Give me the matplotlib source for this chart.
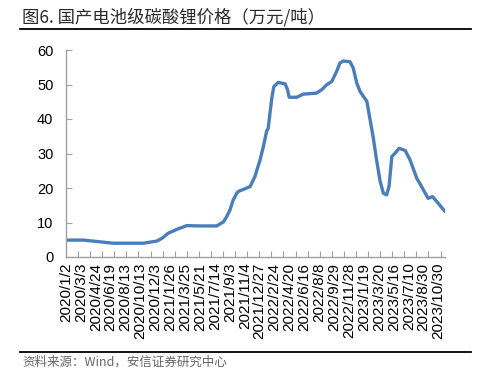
import matplotlib
matplotlib.use("Agg")
import matplotlib.pyplot as plt
from matplotlib.ticker import FixedLocator

plt.rcParams['font.family'] = ['Liberation Sans', 'Noto Sans CJK SC', 'DejaVu Sans']

# ---- data (trading-day index, price in 万元/吨) ----
day_idx = [0, 43, 68, 117, 192, 225, 238, 254, 275, 300, 333, 374, 391, 399, 407,
           415, 424, 428, 457, 469, 482, 490, 498, 502, 511, 516, 527, 544, 550, 554,
           573, 589, 622, 635, 647, 660, 672, 680, 688, 705, 713, 722, 730, 747, 755,
           763, 771, 780, 788, 796, 802, 809, 817, 827, 842, 854, 871, 883, 899, 910,
           924, 941]
price = [4.9, 4.9, 4.6, 4.0, 4.0, 4.6, 5.4, 6.9, 8.0, 9.1, 9.0, 9.0, 10.2, 11.7, 13.6,
         16.5, 18.5, 19.0, 20.4, 23.3, 28.2, 32.0, 36.4, 37.3, 46.1, 49.4, 50.6, 50.2, 48.5, 46.3,
         46.3, 47.2, 47.5, 48.5, 49.9, 50.9, 53.8, 56.2, 56.8, 56.6, 54.8, 50.4, 48.0, 45.1, 39.8,
         34.5, 28.2, 21.9, 18.5, 18.0, 20.4, 29.1, 30.1, 31.5, 30.9, 28.2, 22.8, 20.4, 17.0, 17.5,
         15.6, 13.2]

tick_labels = ["2020/1/2", "2020/3/3", "2020/4/24", "2020/6/19", "2020/8/13", "2020/10/13",
               "2020/12/3", "2021/1/26", "2021/3/25", "2021/5/21", "2021/7/14", "2021/9/3",
               "2021/11/4", "2021/12/27", "2022/2/24", "2022/4/20", "2022/6/16", "2022/8/8",
               "2022/9/29", "2022/11/28", "2023/1/19", "2023/3/20", "2023/5/16", "2023/7/10",
               "2023/8/30", "2023/10/30"]
label_step = 37
minor_step = 30
n_days = 942

title = "图6. 国产电池级碳酸锂价格（万元/吨）"
source = "资料来源：Wind，安信证券研究中心"

fig = plt.figure(figsize=(4.89, 3.82), dpi=100)
ax = fig.add_axes([66/489, 1-257/382, (445-66)/489, (257-50)/382])

ax.plot(day_idx, price, color='#4a7ebb', lw=2.4, solid_capstyle='round', solid_joinstyle='round')

ax.set_xlim(0, n_days - 1)
ax.set_ylim(0, 60)
ax.set_yticks(range(0, 61, 10))

label_pos = [i * label_step for i in range(len(tick_labels))]
ax.set_xticks(label_pos)
ax.set_xticklabels(tick_labels, rotation=90, fontsize=11)
ax.xaxis.set_minor_locator(FixedLocator(list(range(0, n_days, minor_step))))
ax.tick_params(axis='x', which='major', length=0, pad=4)
ax.tick_params(axis='x', which='minor', direction='in', length=4, color='#a0a0a0', width=0.8)
ax.tick_params(axis='y', direction='in', length=4, color='#a0a0a0', width=0.8, pad=9, labelsize=10.5)

for s in ['top', 'right']:
    ax.spines[s].set_visible(False)
for s in ['left', 'bottom']:
    ax.spines[s].set_color('#a0a0a0')
    ax.spines[s].set_linewidth(1.0)

fig.text(22/489, 1-17/382, title, fontsize=12.5, color='#2a2a2a', va='center', ha='left',
         family=['Noto Sans CJK SC', 'DejaVu Sans'])
fig.add_artist(plt.Line2D([20/489, 471/489], [1-28.5/382, 1-28.5/382], color='black', lw=1.3))
fig.add_artist(plt.Line2D([20/489, 471/489], [1-352/382, 1-352/382], color='black', lw=1.3))
fig.text(22/489, 1-362/382, source, fontsize=9, color='#666666', va='center', ha='left',
         style='italic', family=['Noto Sans CJK SC', 'DejaVu Sans'])

fig.savefig("out.png", dpi=100)
